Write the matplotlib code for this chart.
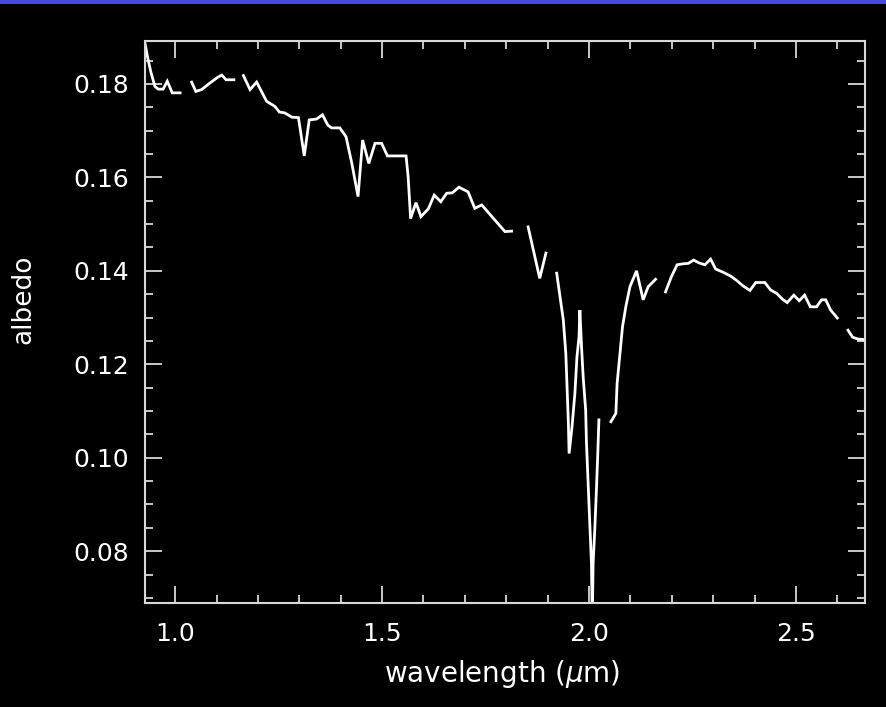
import numpy as np
import matplotlib
matplotlib.use("Agg")
import matplotlib.pyplot as plt
from matplotlib.patches import Rectangle
from matplotlib.ticker import MultipleLocator, FormatStrFormatter

# Spectrum segments (wavelength in micron, albedo); gaps between segments
seg1_w = [0.927, 0.933, 0.941, 0.951, 0.959, 0.971, 0.981, 0.993, 1.012]
seg1_a = [0.1888, 0.1859, 0.1827, 0.1795, 0.1789, 0.1789, 0.1806, 0.1781, 0.1781]

seg2_w = [1.040, 1.050, 1.064, 1.084, 1.104, 1.113, 1.123, 1.142]
seg2_a = [0.1804, 0.1784, 0.1788, 0.1802, 0.1815, 0.1819, 0.1809, 0.1809]

seg3_w = [1.165, 1.181, 1.197, 1.221, 1.241, 1.252, 1.265, 1.282, 1.298, 1.312,
          1.324, 1.342, 1.356, 1.369, 1.378, 1.398, 1.413, 1.427, 1.442, 1.453,
          1.468, 1.483, 1.499, 1.513, 1.558, 1.563, 1.569, 1.582, 1.594, 1.612,
          1.626, 1.642, 1.656, 1.670, 1.686, 1.708, 1.724, 1.741, 1.797, 1.813]
seg3_a = [0.1818, 0.1788, 0.1804, 0.1763, 0.1752, 0.1740, 0.1738, 0.1729, 0.1728, 0.1646,
          0.1723, 0.1725, 0.1734, 0.1712, 0.1706, 0.1706, 0.1687, 0.1630, 0.1559, 0.1680,
          0.1630, 0.1673, 0.1673, 0.1646, 0.1646, 0.1602, 0.1512, 0.1546, 0.1516, 0.1533,
          0.1562, 0.1548, 0.1566, 0.1567, 0.1579, 0.1569, 0.1534, 0.1541, 0.1484, 0.1485]

seg4_w = [1.853, 1.881, 1.896]
seg4_a = [0.1494, 0.1384, 0.1438]

seg5_w = [1.922, 1.938, 1.944, 1.947, 1.950, 1.952, 1.959, 1.966, 1.971, 1.976,
          1.978, 1.982, 1.986, 1.992, 1.994, 1.998, 2.002, 2.006, 2.008, 2.010,
          2.014, 2.018, 2.021, 2.024]
seg5_a = [0.1395, 0.1295, 0.1224, 0.1152, 0.1081, 0.1009, 0.1066, 0.1138, 0.1216, 0.1259,
          0.1316, 0.1238, 0.1173, 0.1102, 0.1031, 0.0945, 0.0859, 0.0774, 0.0650, 0.0774,
          0.0845, 0.0931, 0.1002, 0.1081]

seg6_w = [2.053, 2.065, 2.068, 2.075, 2.081, 2.089, 2.099, 2.115, 2.131, 2.143, 2.161]
seg6_a = [0.1077, 0.1095, 0.1159, 0.1224, 0.1280, 0.1323, 0.1366, 0.1400, 0.1338, 0.1366, 0.1382]

seg7_w = [2.185, 2.199, 2.213, 2.227, 2.240, 2.253, 2.266, 2.280, 2.294, 2.306,
          2.324, 2.342, 2.356, 2.372, 2.389, 2.403, 2.425, 2.439, 2.453, 2.468,
          2.479, 2.495, 2.508, 2.521, 2.535, 2.550, 2.562, 2.572, 2.584, 2.600]
seg7_a = [0.1355, 0.1387, 0.1413, 0.1415, 0.1416, 0.1423, 0.1417, 0.1413, 0.1425, 0.1404,
          0.1397, 0.1389, 0.1380, 0.1368, 0.1358, 0.1375, 0.1375, 0.1359, 0.1352, 0.1339,
          0.1332, 0.1348, 0.1336, 0.1348, 0.1323, 0.1323, 0.1338, 0.1338, 0.1316, 0.1299]

seg8_w = [2.626, 2.637, 2.650, 2.680]
seg8_a = [0.1273, 0.1258, 0.1254, 0.1252]

segments = [(seg1_w, seg1_a), (seg2_w, seg2_a), (seg3_w, seg3_a), (seg4_w, seg4_a),
            (seg5_w, seg5_a), (seg6_w, seg6_a), (seg7_w, seg7_a), (seg8_w, seg8_a)]

x_ticks = [1.0, 1.5, 2.0, 2.5]
y_ticks = [0.08, 0.10, 0.12, 0.14, 0.16, 0.18]

fig = plt.figure(figsize=(8.86, 7.07), dpi=100, facecolor="black")
fig.patches.append(Rectangle((0, 1 - 4 / 707), 1, 4 / 707, transform=fig.transFigure,
                             facecolor="#4448e0", edgecolor="none", zorder=0))

ax = fig.add_axes([144.5 / 886, 104 / 707, 720.5 / 886, 562 / 707])
ax.set_facecolor("black")

for w, a in segments:
    ax.plot(w, a, color="white", lw=2.0, solid_joinstyle="miter")

ax.set_xlim(0.926, 2.667)
ax.set_ylim(0.0689, 0.1892)

ax.xaxis.set_major_locator(MultipleLocator(0.5))
ax.xaxis.set_minor_locator(MultipleLocator(0.1))
ax.yaxis.set_major_locator(MultipleLocator(0.02))
ax.yaxis.set_minor_locator(MultipleLocator(0.005))
ax.set_xticks(x_ticks)
ax.set_yticks(y_ticks)
ax.xaxis.set_major_formatter(FormatStrFormatter("%.1f"))
ax.yaxis.set_major_formatter(FormatStrFormatter("%.2f"))

for s in ax.spines.values():
    s.set_color("#d8d8d8")
    s.set_linewidth(1.5)

ax.tick_params(which="both", direction="in", top=True, right=True, colors="#d8d8d8",
               width=1.3)
ax.tick_params(which="major", length=12, labelsize=18, labelcolor="white")
ax.tick_params(which="minor", length=6)
ax.tick_params(axis="x", which="major", pad=14)
ax.tick_params(axis="y", which="major", pad=11)

ax.set_xlabel(r"wavelength ($\mu$m)", color="white", fontsize=20)
ax.set_ylabel("albedo", color="white", fontsize=19)
ax.xaxis.set_label_coords(0.497, -0.097)
ax.yaxis.set_label_coords(-0.15, 0.54)

fig.savefig("out.png", dpi=100, facecolor="black")
